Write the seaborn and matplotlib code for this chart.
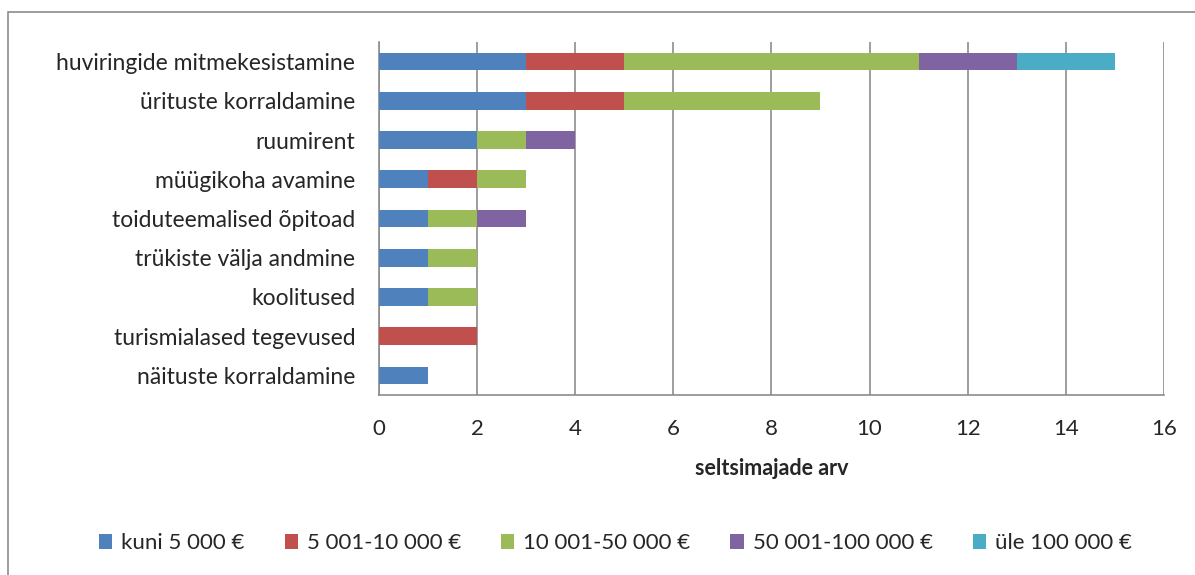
#!/usr/bin/env python3
# -*- coding: utf-8 -*-

import numpy as np
import pandas as pd
import matplotlib.pyplot as plt
import seaborn as sns
from matplotlib.patches import Rectangle, Patch

# ------------------------------------------------------------------------------
# data
# ------------------------------------------------------------------------------

categories = ['huviringide mitmekesistamine', 'ürituste korraldamine', 'ruumirent',
              'müügikoha avamine', 'toiduteemalised õpitoad', 'trükiste välja andmine',
              'koolitused', 'turismialased tegevused', 'näituste korraldamine']

bands = ['kuni 5 000 €', '5 001-10 000 €', '10 001-50 000 €', '50 001-100 000 €', 'üle 100 000 €']

kuni_5000 = [3, 3, 2, 1, 1, 1, 1, 0, 1]
v5001_10000 = [2, 2, 0, 1, 0, 0, 0, 2, 0]
v10001_50000 = [6, 4, 1, 1, 1, 1, 1, 0, 0]
v50001_100000 = [2, 0, 1, 0, 1, 0, 0, 0, 0]
yle_100000 = [2, 0, 0, 0, 0, 0, 0, 0, 0]

colors = ['#4F81BD', '#C0504D', '#9BBB59', '#8064A2', '#4BACC6']

# ------------------------------------------------------------------------------
# plot
# ------------------------------------------------------------------------------

sns.set_style('white')
plt.rcParams['font.family'] = ['Lato', 'DejaVu Sans']

series = [kuni_5000, v5001_10000, v10001_50000, v50001_100000, yle_100000]
cum = np.cumsum(np.array(series), axis=0)

fig = plt.figure(figsize=(11.95, 5.75), dpi=100)
ax = fig.add_axes([0.317, 0.313, 0.657, 0.614])

# outer chart border
fig.patches.append(Rectangle((8 / 1195, -0.5), 1.5, 0.5 + 1 - 12 / 575, transform=fig.transFigure,
                             fill=False, edgecolor='#8c8c8c', linewidth=1.2, zorder=0))

# draw cumulative bars from the top layer down so they stack
for i in range(len(bands) - 1, -1, -1):
    df = pd.DataFrame({'kategooria': categories, 'arv': cum[i]})
    sns.barplot(data=df, y='kategooria', x='arv', color=colors[i], width=0.45,
                saturation=1, orient='h', ax=ax, zorder=3, linewidth=0, edgecolor='none')

ax.set_xlim(0, 16)
ax.set_ylim(len(categories) - 0.5, -0.5)
ax.set_xticks(range(0, 17, 2))
ax.xaxis.grid(True, color='#8c8c8c', linewidth=1.2, zorder=0)
ax.set_axisbelow(True)

for s in ['top', 'right']:
    ax.spines[s].set_visible(False)
for s in ['left', 'bottom']:
    ax.spines[s].set_color('#8c8c8c')
    ax.spines[s].set_linewidth(1.2)

ax.set_yticks(range(len(categories)))
ax.set_yticks(np.arange(-0.5, len(categories), 1), minor=True)
ax.tick_params(axis='y', which='major', length=0, pad=17, labelsize=16.5)
ax.tick_params(axis='y', which='minor', length=6, width=1.2, color='#8c8c8c', direction='out')
ax.tick_params(axis='x', which='major', length=6, width=1.2, color='#8c8c8c', direction='out',
               labelsize=16, pad=11)

ax.set_ylabel(None)
ax.set_xlabel('seltsimajade arv', fontsize=15.5, fontweight='bold', labelpad=14)

handles = [Patch(facecolor=c, edgecolor='none') for c in colors]
fig.legend(handles, bands, loc='center', bbox_to_anchor=(0.515, 0.055), ncol=5, frameon=False,
           fontsize=16, handlelength=0.6, handleheight=0.6, handletextpad=0.4, columnspacing=1.8)

plt.savefig('out.png', dpi=100)
plt.close()
